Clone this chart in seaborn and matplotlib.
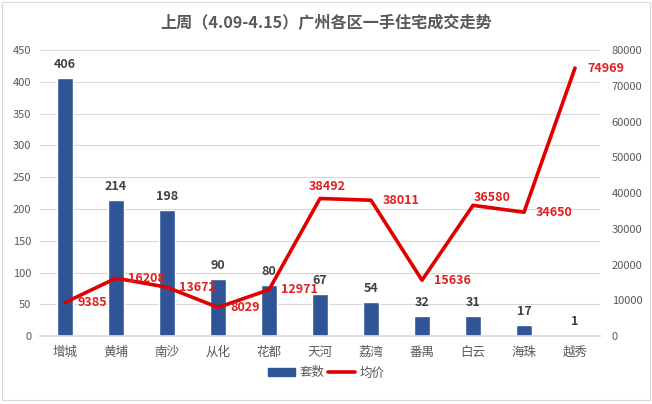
import numpy as np
import pandas as pd
import matplotlib
matplotlib.use("Agg")
import matplotlib.pyplot as plt
from matplotlib.patches import Patch, Rectangle
from matplotlib.lines import Line2D
import seaborn as sns

districts = ["增城", "黄埔", "南沙", "从化", "花都", "天河", "荔湾", "番禺", "白云", "海珠", "越秀"]
units = [406, 214, 198, 90, 80, 67, 54, 32, 31, 17, 1]
avg_price = [9385, 16208, 13672, 8029, 12971, 38492, 38011, 15636, 36580, 34650, 74969]
left_ticks = list(range(0, 451, 50))
right_ticks = list(range(0, 80001, 10000))

sns.set_theme(style="white")
plt.rcParams["font.family"] = ["Noto Sans CJK SC", "DejaVu Sans"]

BLUE = "#2F5597"
RED = "#E00000"
GRAY = "#595959"

df = pd.DataFrame({"区": districts, "套数": units, "均价": avg_price, "pos": np.arange(len(districts))})

fig = plt.figure(figsize=(6.52, 4.04), dpi=100)
ax = fig.add_axes([0.0606, 0.168, 0.8604, 0.708])

sns.barplot(data=df, x="区", y="套数", color=BLUE, width=0.31, saturation=1, ax=ax)
ax.set_ylim(0, 450)
ax.set_yticks(left_ticks)
ax.set_xlim(-0.5, len(districts) - 0.5)
ax.yaxis.grid(True, color="#D9D9D9", linewidth=0.8)
ax.set_axisbelow(True)
for s in ["top", "right", "left"]:
    ax.spines[s].set_visible(False)
ax.spines["bottom"].set_color("#D9D9D9")
ax.set_xlabel("")
ax.set_ylabel("")
ax.tick_params(axis="y", colors=GRAY, labelsize=8, length=0, pad=6)
ax.tick_params(axis="x", colors=GRAY, labelsize=9, length=0, pad=7)
for lab in ax.get_xticklabels():
    lab.set_color(GRAY)

for i, v in enumerate(units):
    ax.annotate(str(v), (i, v), xytext=(0, 7), textcoords="offset pixels",
                ha="center", va="bottom", fontsize=9, fontweight="bold", color="#404040")

ax2 = ax.twinx()
sns.lineplot(data=df, x="pos", y="均价", color=RED, linewidth=2.6, ax=ax2, sort=False)
ax2.set_ylim(0, 80000)
ax2.set_yticks(right_ticks)
ax2.set_xlim(-0.5, len(districts) - 0.5)
for s in ["top", "right", "left", "bottom"]:
    ax2.spines[s].set_visible(False)
ax2.set_ylabel("")
ax2.set_xlabel("")
ax2.tick_params(axis="y", colors=GRAY, labelsize=8, length=0, pad=8)

# label placement (pixel offsets) as in the reference
offsets = {5: (-11, 12), 8: (1, 8)}
for i, v in enumerate(avg_price):
    dx, dy = offsets.get(i, (12, 0))
    ax2.annotate(str(v), (i, v), xytext=(dx, dy), textcoords="offset pixels",
                 ha="left", va="center", fontsize=9, fontweight="bold", color="#E02020")

fig.text(0.5, 0.943, "上周（4.09-4.15）广州各区一手住宅成交走势", ha="center", va="center",
         fontsize=11.6, fontweight="bold", color=GRAY)

handles = [Patch(facecolor=BLUE, edgecolor=BLUE), Line2D([0], [0], color=RED, linewidth=2.6)]
fig.legend(handles, ["套数", "均价"], loc="center", bbox_to_anchor=(0.5, 0.077), ncol=2,
           frameon=False, fontsize=9, handlelength=2.2, columnspacing=0.3, handletextpad=0.3,
           labelcolor=GRAY)

fig.patches.append(Rectangle((0.003, 0.01), 0.994, 0.985, transform=fig.transFigure,
                             fill=False, edgecolor="#D9D9D9", linewidth=0.8))

fig.savefig("out.png", dpi=100, facecolor="white")
